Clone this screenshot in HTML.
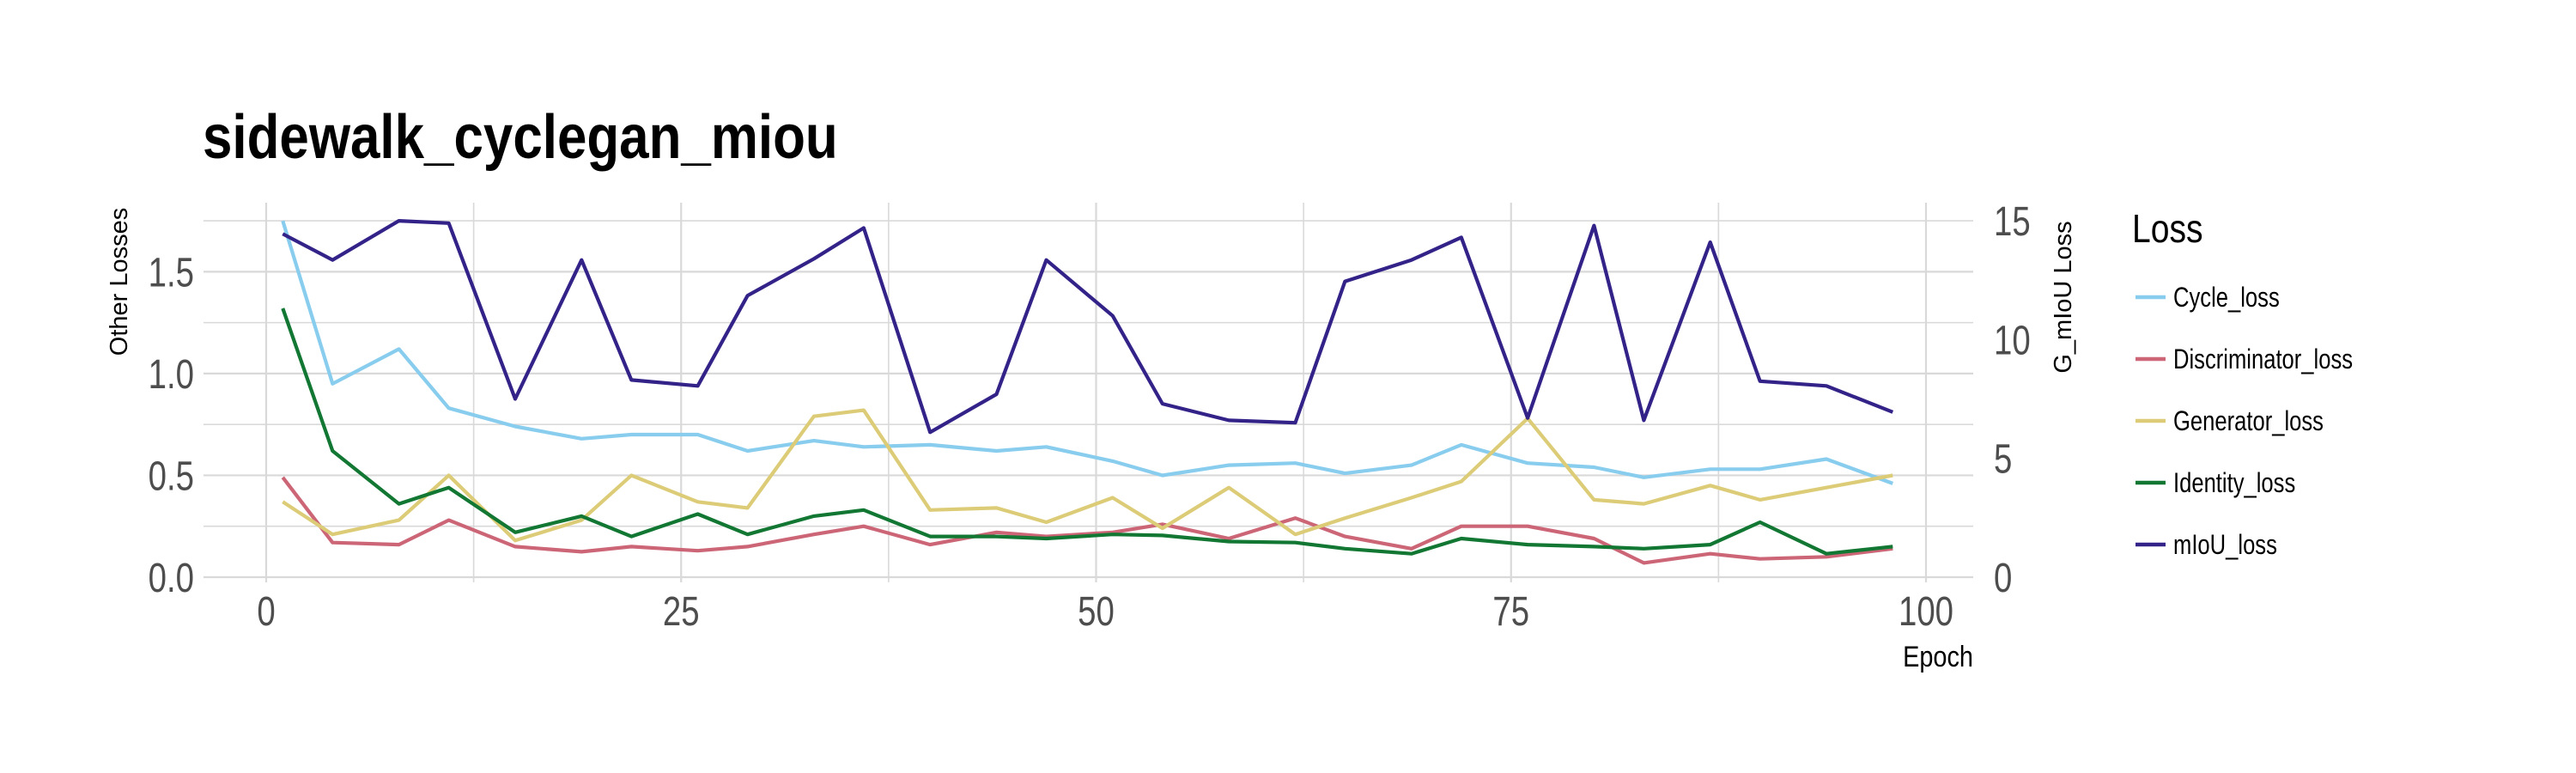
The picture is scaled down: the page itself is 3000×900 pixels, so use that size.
<!DOCTYPE html>
<html><head><meta charset="utf-8"><style>
html,body{margin:0;padding:0;background:#fff;width:3000px;height:900px;overflow:hidden}
svg text{font-family:"Liberation Sans",sans-serif}
.t{fill:#4d4d4d;font-size:48px}
</style></head><body>
<svg id="chart" width="3000" height="900" xmlns="http://www.w3.org/2000/svg">
<text transform="translate(236,184) scale(0.86,1)" font-size="72" font-weight="bold" fill="#000">sidewalk_cyclegan_miou</text>
<g id="grid"></g><g id="lines"></g><g id="axes"></g>
<text transform="translate(148,328) rotate(-90)" text-anchor="middle" font-size="29" fill="#000">Other Losses</text>
<text transform="translate(2412,346) rotate(-90)" text-anchor="middle" font-size="29" fill="#000">G_mIoU Loss</text>
<text transform="translate(2298,776) scale(0.85,1)" text-anchor="end" font-size="34" fill="#000">Epoch</text>
<g>
<text transform="translate(2483,282) scale(0.85,1)" font-size="46" fill="#000">Loss</text>
<g id="legend"></g>
</g>
</svg>
<script>
const epochs=[1,4,8,11,15,19,22,26,29,33,36,40,44,47,51,54,58,62,65,69,72,76,80,83,87,90,94,98];
const cycleLoss=[1.75,0.95,1.12,0.83,0.74,0.68,0.70,0.70,0.62,0.67,0.64,0.65,0.62,0.64,0.57,0.50,0.55,0.56,0.51,0.55,0.65,0.56,0.54,0.49,0.53,0.53,0.58,0.46];
const discLoss=[0.49,0.17,0.16,0.28,0.15,0.125,0.15,0.13,0.15,0.21,0.25,0.16,0.22,0.20,0.22,0.26,0.19,0.29,0.20,0.14,0.25,0.25,0.19,0.07,0.115,0.09,0.10,0.14];
const genLoss=[0.37,0.21,0.28,0.50,0.18,0.28,0.50,0.37,0.34,0.79,0.82,0.33,0.34,0.27,0.39,0.24,0.44,0.21,0.29,0.39,0.47,0.78,0.38,0.36,0.45,0.38,0.44,0.50];
const identLoss=[1.32,0.62,0.36,0.44,0.22,0.30,0.20,0.31,0.21,0.30,0.33,0.20,0.20,0.19,0.21,0.205,0.175,0.17,0.14,0.115,0.19,0.16,0.15,0.14,0.16,0.27,0.115,0.15];
const miouLoss=[14.45,13.35,15.0,14.9,7.5,13.35,8.3,8.05,11.85,13.4,14.7,6.1,7.7,13.35,11.0,7.3,6.6,6.5,12.45,13.35,14.3,6.7,14.8,6.6,14.1,8.25,8.05,6.95];
const xTicks=[0,25,50,75,100];
const yLeftTicks=[0,0.5,1.0,1.5];
const yRightTicks=[0,5,10,15];
const seriesNames=["Cycle_loss","Discriminator_loss","Generator_loss","Identity_loss","mIoU_loss"];
const colors=["#88CCEE","#CC6677","#DDCC77","#117733","#332288"];

const NS="http://www.w3.org/2000/svg";
const L=237,R=2298,T=236,B=672;
const X=e=>310+e*19.33;
const YL=v=>672-v*237.1;
const RIGHT_MAX=15,LEFT_AT_RIGHT_MAX=1.75;
const YR=v=>YL(v*LEFT_AT_RIGHT_MAX/RIGHT_MAX);
function mk(tag,attrs,parent){const el=document.createElementNS(NS,tag);for(const k in attrs)el.setAttribute(k,attrs[k]);parent.appendChild(el);return el;}
const grid=document.getElementById('grid'),lines=document.getElementById('lines'),axes=document.getElementById('axes'),legend=document.getElementById('legend');
for(let v=0;v<=1.75001;v+=0.25){
  const g=mk('line',{x1:L,x2:R,y1:YL(v),y2:YL(v),stroke:'#d9d9d9','stroke-width':Math.abs(v*2-Math.round(v*2))<1e-6?2.2:1.6},grid);
  
  
}
for(let e=0;e<=100.001;e+=12.5){
  const g=mk('line',{x1:X(e),x2:X(e),y1:T,y2:B+6,stroke:'#d9d9d9','stroke-width':e%25===0?2.2:1.6},grid);
  
  
}
const series=[[cycleLoss,YL],[discLoss,YL],[genLoss,YL],[identLoss,YL],[miouLoss,YR]];
series.forEach((s,i)=>{
  const pts=epochs.map((e,j)=>X(e).toFixed(1)+','+s[1](s[0][j]).toFixed(1)).join(' ');
  const p=mk('polyline',{points:pts,fill:'none',stroke:colors[i],'stroke-width':4.2,'stroke-linejoin':'round'},lines);
  
  
  const y=346+i*72;
  const k=mk('line',{x1:2487,x2:2522,y1:y,y2:y,stroke:colors[i],'stroke-width':4.5},legend);
  
  
  const t=mk('text',{transform:'translate(2531,'+(y+11)+') scale(0.8,1)','font-size':32,fill:'#000'},legend);
  t.textContent=seriesNames[i];
  
  
});
xTicks.forEach(v=>{
  const t=mk('text',{transform:'translate('+X(v)+',728) scale(0.8,1)','text-anchor':'middle',class:'t'},axes);
  t.textContent=v;
  
  
});
yLeftTicks.forEach(v=>{
  const t=mk('text',{transform:'translate(226,'+(YL(v)+17)+') scale(0.8,1)','text-anchor':'end',class:'t'},axes);
  t.textContent=v.toFixed(1);
  
  
});
yRightTicks.forEach(v=>{
  const t=mk('text',{transform:'translate(2322,'+(YR(v)+17)+') scale(0.8,1)','text-anchor':'start',class:'t'},axes);
  t.textContent=v;
  
  
});
</script>
</body></html>
